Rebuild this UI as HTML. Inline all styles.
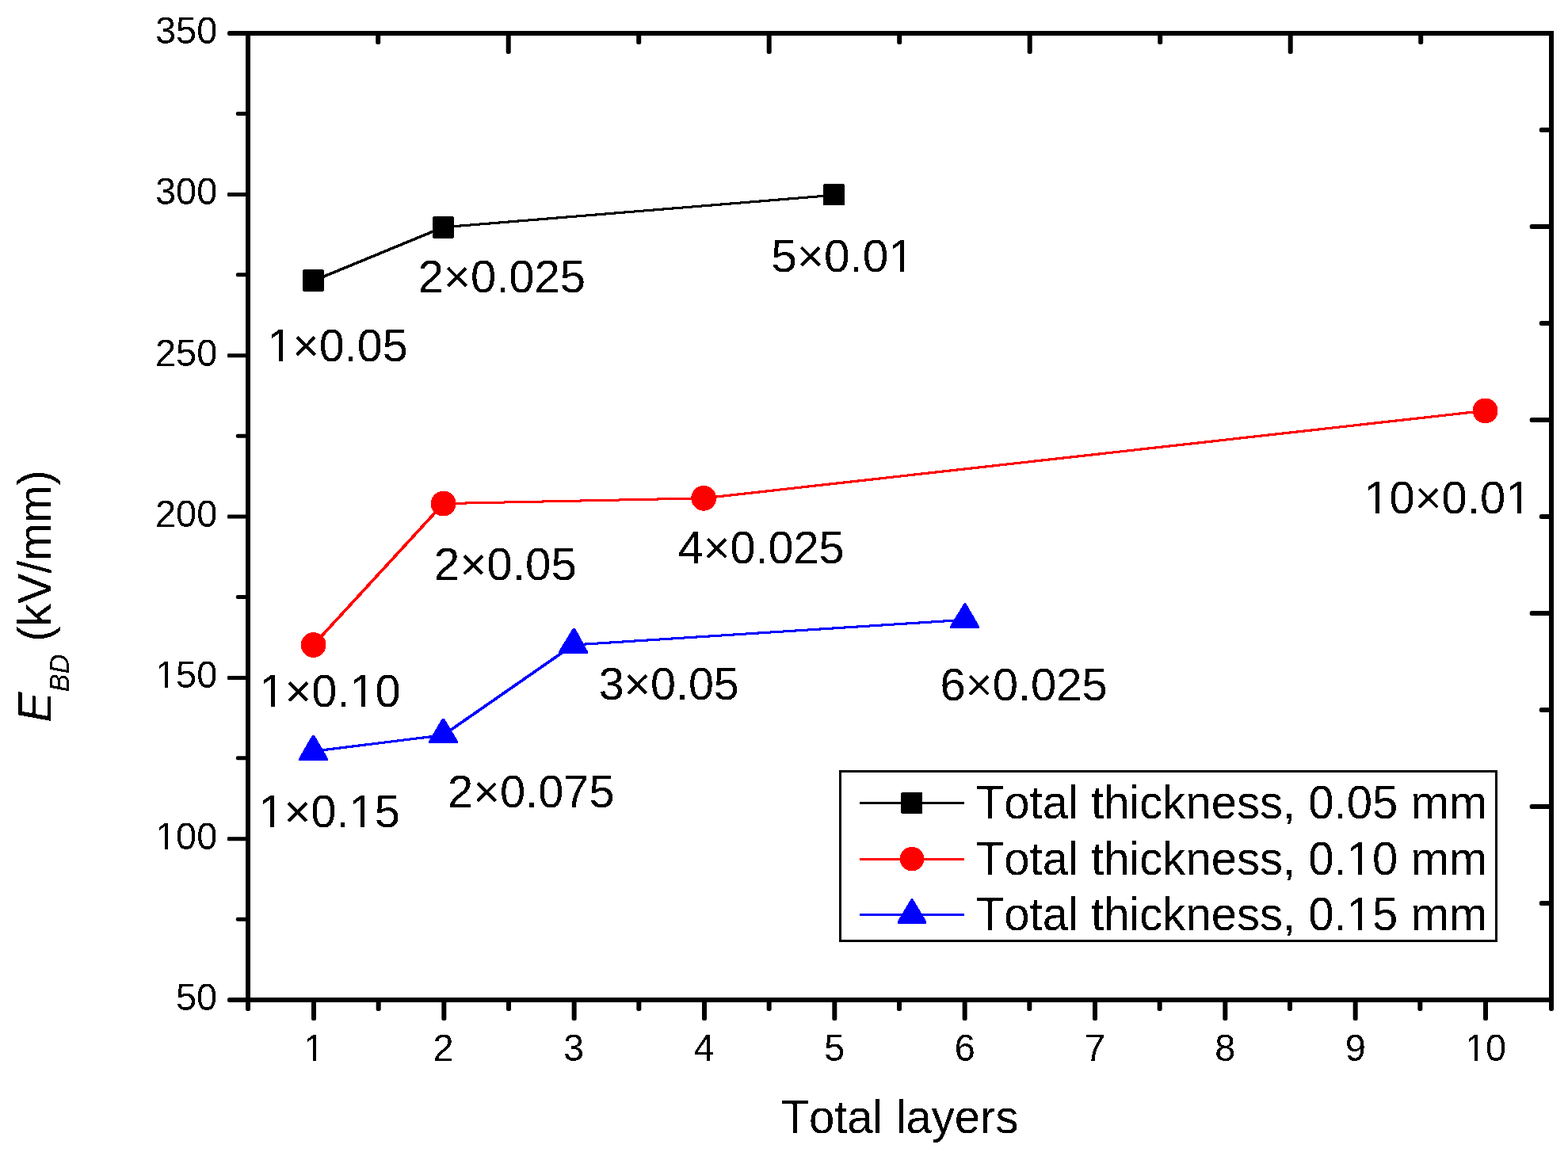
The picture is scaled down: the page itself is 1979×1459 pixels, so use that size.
<!DOCTYPE html>
<html lang="en">
<head>
<meta charset="utf-8">
<title>Breakdown strength vs total layers</title>
<style>
html,body{margin:0;padding:0;background:#fff;}
body{width:1979px;height:1459px;overflow:hidden;}
svg{display:block;}
text{font-family:"Liberation Sans",sans-serif;fill:#000;font-kerning:none;filter:url(#bin);}
.tk{font-size:48.4px;}
.an{font-size:58px;}
.lg{font-size:60px;}
.ax{stroke:#000;stroke-width:6;fill:none;}
.t{stroke:#000;stroke-width:6;stroke-linecap:round;fill:none;}
</style>
</head>
<body>
<svg width="1979" height="1459" viewBox="0 0 1979 1459">
<defs><filter id="bin" x="-5%" y="-20%" width="110%" height="140%" color-interpolation-filters="sRGB"><feComponentTransfer><feFuncA type="discrete" tableValues="0 1"/></feComponentTransfer></filter></defs>
<rect x="0" y="0" width="1979" height="1459" fill="#ffffff"/>

<g shape-rendering="crispEdges">
<rect class="ax" x="313" y="42" width="1645" height="1220"/>
</g>
<g fill="#000">
<rect x="287.0" y="1259.00" width="26.0" height="6" rx="2.5"/>
<rect x="297.8" y="1157.63" width="15.2" height="5" rx="2.2"/>
<rect x="287.0" y="1056.27" width="26.0" height="5" rx="1"/>
<rect x="297.8" y="954.30" width="15.2" height="5" rx="2.2"/>
<rect x="287.0" y="852.93" width="26.0" height="5" rx="1"/>
<rect x="297.8" y="750.97" width="15.2" height="5" rx="2.2"/>
<rect x="287.0" y="649.60" width="26.0" height="5" rx="1"/>
<rect x="297.8" y="547.63" width="15.2" height="5" rx="2.2"/>
<rect x="287.0" y="446.27" width="26.0" height="5" rx="1"/>
<rect x="297.8" y="344.30" width="15.2" height="5" rx="2.2"/>
<rect x="287.0" y="242.93" width="26.0" height="5" rx="1"/>
<rect x="297.8" y="140.97" width="15.2" height="5" rx="2.2"/>
<rect x="287.0" y="39.00" width="26.0" height="6" rx="2.5"/>
<rect x="310.00" y="1262.0" width="6" height="14.0" rx="2.5"/>
<rect x="393.00" y="1262.0" width="6" height="26.0" rx="2"/>
<rect x="474.67" y="1262.0" width="6" height="14.0" rx="2.5"/>
<rect x="557.33" y="1262.0" width="6" height="26.0" rx="2"/>
<rect x="639.00" y="1262.0" width="6" height="14.0" rx="2.5"/>
<rect x="721.67" y="1262.0" width="6" height="26.0" rx="2"/>
<rect x="803.33" y="1262.0" width="6" height="14.0" rx="2.5"/>
<rect x="886.00" y="1262.0" width="6" height="26.0" rx="2"/>
<rect x="967.67" y="1262.0" width="6" height="14.0" rx="2.5"/>
<rect x="1050.33" y="1262.0" width="6" height="26.0" rx="2"/>
<rect x="1132.00" y="1262.0" width="6" height="14.0" rx="2.5"/>
<rect x="1214.66" y="1262.0" width="6" height="26.0" rx="2"/>
<rect x="1296.33" y="1262.0" width="6" height="14.0" rx="2.5"/>
<rect x="1379.00" y="1262.0" width="6" height="26.0" rx="2"/>
<rect x="1460.66" y="1262.0" width="6" height="14.0" rx="2.5"/>
<rect x="1543.33" y="1262.0" width="6" height="26.0" rx="2"/>
<rect x="1625.00" y="1262.0" width="6" height="14.0" rx="2.5"/>
<rect x="1707.66" y="1262.0" width="6" height="26.0" rx="2"/>
<rect x="1789.33" y="1262.0" width="6" height="14.0" rx="2.5"/>
<rect x="1872.00" y="1262.0" width="6" height="26.0" rx="2"/>
<rect x="1955.00" y="1262.0" width="6" height="14.0" rx="2.5"/>
<rect x="474.20" y="42.0" width="6" height="14.0" rx="2.5"/>
<rect x="638.70" y="42.0" width="6" height="26.0" rx="2.5"/>
<rect x="803.20" y="42.0" width="6" height="14.0" rx="2.5"/>
<rect x="967.70" y="42.0" width="6" height="26.0" rx="2.5"/>
<rect x="1132.20" y="42.0" width="6" height="14.0" rx="2.5"/>
<rect x="1296.70" y="42.0" width="6" height="26.0" rx="2.5"/>
<rect x="1461.20" y="42.0" width="6" height="14.0" rx="2.5"/>
<rect x="1625.70" y="42.0" width="6" height="26.0" rx="2.5"/>
<rect x="1790.20" y="42.0" width="6" height="14.0" rx="2.5"/>
<rect x="1942.8" y="1137.10" width="15.2" height="5.8" rx="2.5"/>
<rect x="1930.7" y="1015.00" width="27.3" height="6" rx="2.5"/>
<rect x="1942.8" y="893.10" width="15.2" height="5.8" rx="2.5"/>
<rect x="1930.7" y="771.00" width="27.3" height="6" rx="2.5"/>
<rect x="1942.8" y="649.10" width="15.2" height="5.8" rx="2.5"/>
<rect x="1930.7" y="527.00" width="27.3" height="6" rx="2.5"/>
<rect x="1942.8" y="405.10" width="15.2" height="5.8" rx="2.5"/>
<rect x="1930.7" y="283.00" width="27.3" height="6" rx="2.5"/>
<rect x="1942.8" y="161.10" width="15.2" height="5.8" rx="2.5"/>
</g>
<g shape-rendering="crispEdges" fill="none">
<line x1="395.5" y1="354.4" x2="559.5" y2="286.8" stroke="#000000" stroke-width="3.53"/>
<line x1="559.5" y1="286.8" x2="1052.5" y2="246.3" stroke="#000000" stroke-width="3.12"/>
<polygon points="383.2,340 407.8,340 409,341.2 409,366.8 407.8,368 383.2,368 382,366.8 382,341.2" fill="#000"/>
<polygon points="547.2,273 571.8,273 573,274.2 573,299.8 571.8,301 547.2,301 546,299.8 546,274.2" fill="#000"/>
<polygon points="1040.2,232 1064.8,232 1066,233.2 1066,259 1066,259 1039,259 1039,259 1039,233.2" fill="#000"/>
<line x1="395.6" y1="814.0" x2="559.6" y2="635.6" stroke="#ff0000" stroke-width="3.75"/>
<line x1="559.6" y1="635.6" x2="888.2" y2="628.8" stroke="#ff0000" stroke-width="3.03"/>
<line x1="888.2" y1="628.8" x2="1874.6" y2="518.4" stroke="#ff0000" stroke-width="3.17"/>
<circle cx="395.6" cy="814.0" r="15.9" fill="#ff0000"/>
<circle cx="559.6" cy="635.6" r="15.9" fill="#ff0000"/>
<circle cx="888.2" cy="628.8" r="15.9" fill="#ff0000"/>
<circle cx="1874.6" cy="518.4" r="15.9" fill="#ff0000"/>
<line x1="395.5" y1="948.2" x2="559.5" y2="927.8" stroke="#0000ff" stroke-width="3.18"/>
<line x1="559.5" y1="927.8" x2="723.5" y2="814.0" stroke="#0000ff" stroke-width="3.70"/>
<line x1="723.5" y1="814.0" x2="1217.5" y2="782.3" stroke="#0000ff" stroke-width="3.10"/>
<polygon points="394,928 397,928 414,957.4 414,960 377,960 377,957.4" fill="#0000ff"/>
<polygon points="558,907 561,907 578,935.4 578,938 541,938 541,935.4" fill="#0000ff"/>
<polygon points="723,793 726,793 742,822.4 742,825 705,825 705,822.4" fill="#0000ff"/>
<polygon points="1217,761 1219,761 1236,790.4 1236,793 1199,793 1199,790.4" fill="#0000ff"/>
</g>
<rect x="1060.5" y="973.5" width="828" height="214" fill="#fff" stroke="#000" stroke-width="3" shape-rendering="crispEdges"/>
<g shape-rendering="crispEdges">
<line x1="1085" y1="1013.5" x2="1217" y2="1013.5" stroke="#000000" stroke-width="3.3"/>
<rect x="1137.3" y="1000.0" width="26.6" height="27" rx="1.5" fill="#000000"/>
<line x1="1085" y1="1084.2" x2="1217" y2="1084.2" stroke="#ff0000" stroke-width="3.3"/>
<circle cx="1151" cy="1084.2" r="15.3" fill="#ff0000"/>
<line x1="1085" y1="1154.7" x2="1217" y2="1154.7" stroke="#0000ff" stroke-width="3.3"/>
<polygon points="1150,1134 1152,1134 1169,1162.7 1169,1166 1133,1166 1133,1162.7" fill="#0000ff"/>
</g>
<text class="tk" transform="translate(221.96,1274.90) scale(0.9680,1)">50</text>
<g transform="translate(196.07,1071.57) scale(0.9680,1)"><text class="tk">100</text><rect x="2.62" y="-5.27" width="9.85" height="6.77" fill="#fff" shape-rendering="crispEdges"/><rect x="16.15" y="-5.27" width="9.47" height="6.77" fill="#fff" shape-rendering="crispEdges"/></g>
<g transform="translate(196.07,868.23) scale(0.9680,1)"><text class="tk">150</text><rect x="2.62" y="-5.27" width="9.85" height="6.77" fill="#fff" shape-rendering="crispEdges"/><rect x="16.15" y="-5.27" width="9.47" height="6.77" fill="#fff" shape-rendering="crispEdges"/></g>
<text class="tk" transform="translate(196.07,664.90) scale(0.9680,1)">200</text>
<text class="tk" transform="translate(196.07,461.57) scale(0.9680,1)">250</text>
<text class="tk" transform="translate(196.07,258.23) scale(0.9680,1)">300</text>
<text class="tk" transform="translate(196.07,54.90) scale(0.9680,1)">350</text>
<g transform="translate(383.47,1338.80) scale(0.9680,1)"><text class="tk">1</text><rect x="2.62" y="-5.27" width="9.60" height="6.77" fill="#fff" shape-rendering="crispEdges"/><rect x="16.15" y="-5.27" width="9.47" height="6.77" fill="#fff" shape-rendering="crispEdges"/></g>
<text class="tk" transform="translate(546.60,1338.80) scale(0.9680,1)">2</text>
<text class="tk" transform="translate(710.94,1338.80) scale(0.9680,1)">3</text>
<text class="tk" transform="translate(875.57,1338.80) scale(0.9680,1)">4</text>
<text class="tk" transform="translate(1040.30,1338.80) scale(0.9680,1)">5</text>
<text class="tk" transform="translate(1204.64,1338.80) scale(0.9680,1)">6</text>
<text class="tk" transform="translate(1368.97,1338.80) scale(0.9680,1)">7</text>
<text class="tk" transform="translate(1533.30,1338.80) scale(0.9680,1)">8</text>
<text class="tk" transform="translate(1697.64,1338.80) scale(0.9680,1)">9</text>
<g transform="translate(1848.94,1338.80) scale(0.9680,1)"><text class="tk">10</text><rect x="2.62" y="-5.27" width="9.85" height="6.77" fill="#fff" shape-rendering="crispEdges"/><rect x="16.15" y="-5.27" width="9.47" height="6.77" fill="#fff" shape-rendering="crispEdges"/></g>
<g transform="translate(337.17,455.50) scale(0.9917,1)"><text class="an">1×0.05</text><rect x="3.14" y="-6.32" width="11.74" height="7.82" fill="#fff" shape-rendering="crispEdges"/><rect x="19.66" y="-6.32" width="11.04" height="7.82" fill="#fff" shape-rendering="crispEdges"/></g>
<text class="an" transform="translate(527.80,368.70) scale(0.9998,1)">2×0.025</text>
<g transform="translate(973.28,342.60) scale(1.0094,1)"><text class="an">5×0.01</text><rect x="149.90" y="-6.32" width="11.74" height="7.82" fill="#fff" shape-rendering="crispEdges"/><rect x="166.17" y="-6.32" width="11.29" height="7.82" fill="#fff" shape-rendering="crispEdges"/></g>
<g transform="translate(327.34,891.50) scale(0.9961,1)"><text class="an">1×0.10</text><rect x="3.14" y="-6.32" width="11.74" height="7.82" fill="#fff" shape-rendering="crispEdges"/><rect x="19.41" y="-6.32" width="11.29" height="7.82" fill="#fff" shape-rendering="crispEdges"/><rect x="117.64" y="-6.32" width="11.74" height="7.82" fill="#fff" shape-rendering="crispEdges"/><rect x="133.91" y="-6.32" width="11.29" height="7.82" fill="#fff" shape-rendering="crispEdges"/></g>
<text class="an" transform="translate(547.78,731.60) scale(1.0063,1)">2×0.05</text>
<text class="an" transform="translate(855.66,711.30) scale(0.9942,1)">4×0.025</text>
<g transform="translate(1721.17,647.70) scale(1.0005,1)"><text class="an">10×0.01</text><rect x="3.14" y="-6.32" width="11.74" height="7.82" fill="#fff" shape-rendering="crispEdges"/><rect x="19.41" y="-6.32" width="11.29" height="7.82" fill="#fff" shape-rendering="crispEdges"/><rect x="182.16" y="-6.32" width="11.74" height="7.82" fill="#fff" shape-rendering="crispEdges"/><rect x="198.42" y="-6.32" width="11.29" height="7.82" fill="#fff" shape-rendering="crispEdges"/></g>
<g transform="translate(326.23,1043.60) scale(0.9981,1)"><text class="an">1×0.15</text><rect x="3.14" y="-6.32" width="11.74" height="7.82" fill="#fff" shape-rendering="crispEdges"/><rect x="19.41" y="-6.32" width="11.29" height="7.82" fill="#fff" shape-rendering="crispEdges"/><rect x="117.64" y="-6.32" width="11.74" height="7.82" fill="#fff" shape-rendering="crispEdges"/><rect x="133.91" y="-6.32" width="11.29" height="7.82" fill="#fff" shape-rendering="crispEdges"/></g>
<text class="an" transform="translate(565.06,1018.50) scale(0.9966,1)">2×0.075</text>
<text class="an" transform="translate(755.67,883.40) scale(0.9894,1)">3×0.05</text>
<text class="an" transform="translate(1186.60,883.60) scale(0.9998,1)">6×0.025</text>
<text class="lg" transform="translate(1231.79,1033.00) scale(0.9679,1)">Total thickness, 0.05 mm</text>
<g transform="translate(1231.79,1103.70) scale(0.9679,1)"><text class="lg">Total thickness, 0.10 mm</text><rect x="486.80" y="-6.53" width="11.89" height="8.03" fill="#fff" shape-rendering="crispEdges"/><rect x="503.64" y="-6.53" width="11.67" height="8.03" fill="#fff" shape-rendering="crispEdges"/></g>
<g transform="translate(1231.79,1174.20) scale(0.9679,1)"><text class="lg">Total thickness, 0.15 mm</text><rect x="486.80" y="-6.53" width="11.89" height="8.03" fill="#fff" shape-rendering="crispEdges"/><rect x="503.64" y="-6.53" width="11.67" height="8.03" fill="#fff" shape-rendering="crispEdges"/></g>
<text class="lg" transform="translate(985.49,1430.00) scale(0.9676,1)">Total layers</text>
<text class="lg" transform="translate(64.1,911.6) rotate(-90) scale(0.9555,1)"><tspan font-style="italic">E</tspan><tspan font-style="italic" font-size="36px" dy="22.8">BD</tspan><tspan dy="-22.8"> (kV/mm)</tspan></text>
</svg>
</body>
</html>
